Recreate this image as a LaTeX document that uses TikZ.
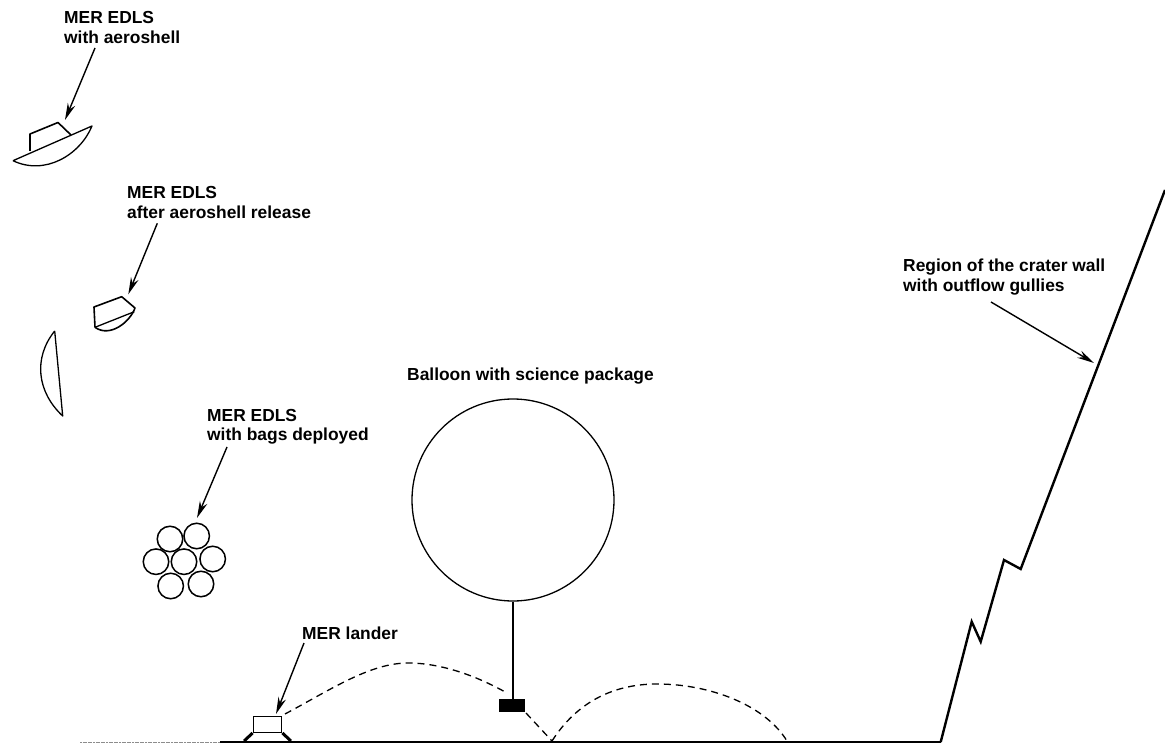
\documentclass[tikz,border=0pt]{standalone}
\usepackage{fontspec}
\setmainfont{Liberation Sans}
\usetikzlibrary{arrows.meta}
\tikzset{
  lbl/.style={font=\bfseries\fontsize{17.4}{19.5}\selectfont,align=left,anchor=west,inner sep=0pt,text=black},
  callout/.style={line width=1.4pt,-{Stealth[length=17pt,width=8pt]}},
  shape line/.style={line width=1.6pt,line join=round},
  thin line/.style={line width=1.3pt,line join=round},
  bag/.style={circle,draw,line width=1.5pt,minimum size=25.5pt,inner sep=0pt},
  bounce/.style={line width=1.3pt,dash pattern=on 7pt off 5pt},
}
\begin{document}
\begin{tikzpicture}[x=1pt,y=-1pt]
\useasboundingbox (0,0) rectangle (1165,743);
% labels
\node[lbl] (l1) at (64,27.5) {MER EDLS\\with aeroshell};
\node[lbl] (l2) at (127,202.5) {MER EDLS\\after aeroshell release};
\node[lbl] (l3) at (207,427) {MER EDLS\\with bags deployed};
\node[lbl] (l4) at (302,633) {MER lander};
\node[lbl] (l5) at (407,376) {Balloon with science package};
\node[lbl] (l6) at (903,277) {Region of the crater wall\\with outflow gullies};
% aeroshell assembly
\coordinate (a1) at (13,160.7);
\coordinate (a2) at (92,126);
\draw[thin line] (a1) -- (a2) .. controls (80,155) and (45,176) .. (a1);
\draw[shape line] (30,151) -- (30,134) -- (58,122.5) -- (71,135);
\coordinate (t1) at (65,120);
\draw[callout] (95,48) -- (t1);
% after release
\draw[shape line] (95,327.3) -- (94,307) -- (121.7,296.7) -- (135,308) .. controls (130,322) and (110,338) .. (95,327.3);
\draw[thin line] (95,327.3) -- (134.3,311.7);
\coordinate (t2) at (128.3,294.3);
\draw[callout] (157.3,223.3) -- (t2);
% released shell
\coordinate (s1) at (54.7,331);
\coordinate (s2) at (62.7,416);
\draw[thin line] (s1) .. controls (33,358) and (37,392) .. (s2) -- (s1);
% bags
\node[bag] (b1) at (170,539) {};
\node[bag] (b2) at (196.7,536) {};
\node[bag] (b3) at (156,561.7) {};
\node[bag] (b4) at (184,561.7) {};
\node[bag] (b5) at (212.7,559) {};
\node[bag] (b6) at (170.7,586) {};
\node[bag] (b7) at (201,584) {};
\coordinate (t3) at (197,518);
\draw[callout] (227,447) -- (t3);
% lander
\node[draw,line width=1.4pt,minimum width=28.4pt,minimum height=15.6pt,inner sep=0pt] (lander) at (267.5,724.5) {};
\draw[line width=3pt] (lander.south west) -- ++(-8.5,8);
\draw[line width=3pt] (lander.south east) -- ++(8.5,8);
\coordinate (t4) at (276,714);
\draw[callout] (304,643) -- (t4);
% balloon
\node[circle,draw,line width=1.3pt,minimum size=202pt,inner sep=0pt] (balloon) at (513,500) {};
\node[fill=black,minimum width=26pt,minimum height=13pt,inner sep=0pt] (pkg) at (512,705.5) {};
\draw[line width=1.6pt] (balloon.south) -- (pkg.north -| balloon.south);
% ground
\coordinate (g0) at (80,742);
\coordinate (g1) at (220,742);
\coordinate (g2) at (940.7,742);
\draw[line width=1pt,black!45,dash pattern=on 2pt off 0.6pt] (g0) -- (g1);
\draw[line width=1.2pt] (g1) -- (g2);
% crater wall
\draw[line width=2.4pt,line join=miter] (g2) -- (971.7,621.7) -- (980.7,641.7) -- (1004,560) -- (1020.7,569) -- (1165,190);
\coordinate (t6) at (1094,363);
\draw[callout] (991,302) -- (t6);
% bounces
\draw[bounce] (285,714) .. controls (330,690) and (370,663) .. (408,663) .. controls (440,663) and (475,675) .. (507,693);
\draw[bounce] (526,713) -- (552,741);
\draw[bounce] (552,741) .. controls (575,705) and (610,684) .. (657,684) .. controls (710,684) and (765,705) .. (787,741);
\end{tikzpicture}
\end{document}
